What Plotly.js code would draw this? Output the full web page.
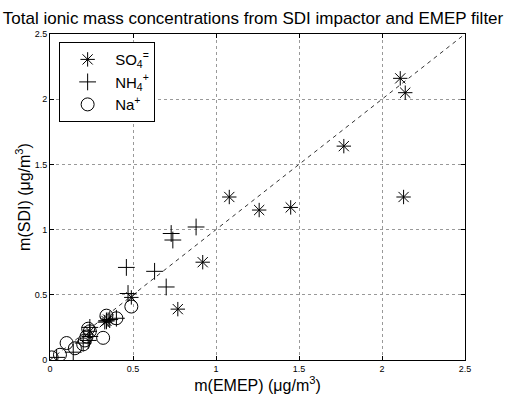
<!DOCTYPE html>
<html>
<head>
<meta charset="utf-8">
<script src="https://cdn.plot.ly/plotly-3.0.1.min.js"></script>
<style>html,body{margin:0;padding:0;background:#fff;}#chart{width:506px;height:394px;}</style>
</head>
<body>
<div id="chart"></div>
<script>
// SO4= : EMEP (x) vs SDI (y)
const so4X = [2.11, 2.14, 1.77, 2.13, 1.08, 1.26, 1.45, 0.92, 0.77, 0.49, 0.34, 0.35, 0.33, 0.24];
const so4Y = [2.16, 2.05, 1.64, 1.25, 1.25, 1.15, 1.17, 0.75, 0.39, 0.48, 0.30, 0.31, 0.29, 0.22];
// NH4+
const nh4X = [0.88, 0.73, 0.74, 0.46, 0.63, 0.70, 0.47, 0.40, 0.36, 0.24, 0.23, 0.24, 0.14, 0.04, 0.34, 0.20];
const nh4Y = [1.02, 0.97, 0.92, 0.71, 0.68, 0.56, 0.51, 0.32, 0.31, 0.25, 0.15, 0.18, 0.06, 0.02, 0.30, 0.13];
// Na+
const naX = [0.49, 0.34, 0.40, 0.23, 0.24, 0.22, 0.21, 0.32, 0.10, 0.15, 0.06, 0.01, 0.20];
const naY = [0.41, 0.34, 0.32, 0.24, 0.22, 0.18, 0.15, 0.17, 0.13, 0.09, 0.04, 0.02, 0.12];
// 1:1 line
const oneToOneX = [0, 2.5];
const oneToOneY = [0, 2.5];
const tickVals = [0, 0.5, 1, 1.5, 2, 2.5];
const tickText = ['0', '0.5', '1', '1.5', '2', '2.5'];

const font = 'Liberation Sans, Arial, Helvetica, sans-serif';
const traces = [
  {x: so4X, y: so4Y, mode: 'markers', name: 'SO<sub>4</sub><sup>=</sup>',
   marker: {symbol: 'asterisk-open', size: 12, color: '#000', line: {width: 1, color: '#000'}}},
  {x: nh4X, y: nh4Y, mode: 'markers', name: 'NH<sub>4</sub><sup>+</sup>',
   marker: {symbol: 'cross-thin-open', size: 12, color: '#000', line: {width: 1, color: '#000'}}},
  {x: naX, y: naY, mode: 'markers', name: 'Na<sup>+</sup>',
   marker: {symbol: 'circle-open', size: 13, color: '#000', line: {width: 1, color: '#000'}}},
  {x: oneToOneX, y: oneToOneY, mode: 'lines', showlegend: false, hoverinfo: 'skip',
   line: {color: '#333', width: 1, dash: '4px,4px'}}
];
const axisCommon = {
  range: [0, 2.5], tickvals: tickVals, ticktext: tickText,
  ticks: 'inside', ticklen: 4, tickcolor: '#000', tickwidth: 1,
  showline: true, linecolor: '#000', linewidth: 1, mirror: 'ticks',
  showgrid: true, gridcolor: '#999', griddash: 'dot', gridwidth: 1,
  zeroline: false, tickfont: {family: font, size: 9, color: '#000'}
};
const layout = {
  width: 506, height: 394,
  margin: {l: 50, r: 41, t: 34, b: 34},
  paper_bgcolor: '#fff', plot_bgcolor: '#fff',
  font: {family: font, color: '#000'},
  title: {text: 'Total ionic mass concentrations from SDI impactor and EMEP filter',
          font: {family: font, size: 17, color: '#000'}, x: 0.5, xanchor: 'center', y: 0.955, yanchor: 'middle'},
  xaxis: Object.assign({}, axisCommon, {
    title: {text: 'm(EMEP) (μg/m<sup>3</sup>)', font: {family: font, size: 16}, standoff: 3}
  }),
  yaxis: Object.assign({}, axisCommon, {
    title: {text: 'm(SDI) (μg/m<sup>3</sup>)', font: {family: font, size: 16}, standoff: 0}
  }),
  showlegend: true,
  legend: {x: 0.022, y: 0.975, xanchor: 'left', yanchor: 'top',
           bgcolor: '#fff', bordercolor: '#000', borderwidth: 1,
           font: {family: font, size: 15, color: '#000'}, itemwidth: 45, tracegroupgap: 2}
};
Plotly.newPlot('chart', traces, layout, {staticPlot: true, displayModeBar: false});
</script>
</body>
</html>
